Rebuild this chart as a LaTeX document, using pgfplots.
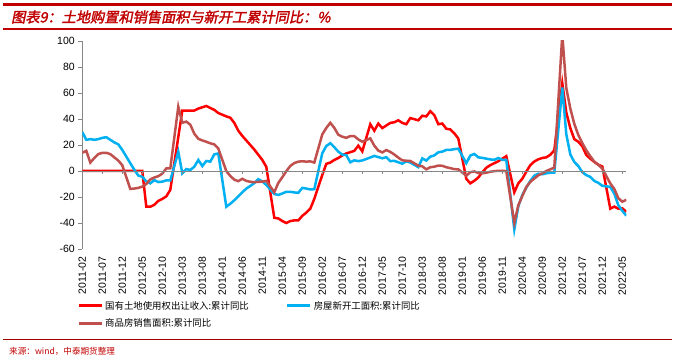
\documentclass[border=0pt]{standalone}
\usepackage{pgfplots}
\pgfplotsset{compat=1.18}
\usepackage{fontspec}
\setmainfont{Liberation Sans}
\newfontfamily\cjk{Noto Sans CJK SC}
\newfontfamily\titlefont{Noto Sans CJK SC}[FakeSlant=0.2, FakeBold=2]
\definecolor{cred}{RGB}{255,0,0}
\definecolor{cblue}{RGB}{0,176,240}
\definecolor{cbrown}{RGB}{192,80,77}
\definecolor{titlered}{RGB}{192,0,0}
\definecolor{axisgray}{RGB}{134,134,134}
\begin{document}
\begin{tikzpicture}
\fill[titlered] (3pt,352.5pt) rectangle (672pt,356.3pt);
\fill[titlered] (3pt,329.3pt) rectangle (672pt,331.3pt);
\fill[titlered!85!black] (3pt,19.3pt) rectangle (672pt,20.5pt);
\node[anchor=west, inner sep=0pt, text=titlered, font=\titlefont\fontsize{14.2}{16}\selectfont] at (11pt,342pt) {图表9：土地购置和销售面积与新开工累计同比：\%};
\node[anchor=west, inner sep=0pt, text=titlered, font=\cjk\fontsize{8.6}{10}\selectfont] at (9pt,7.5pt) {来源：wind，中泰期货整理};

\begin{axis}[
  at={(82.3pt,110pt)}, anchor=south west,
  scale only axis, width=544pt, height=208pt,
  xmin=0, xmax=136, ymin=-60, ymax=100,
  axis x line*=bottom, axis y line*=left,
  x axis line style={draw=none},
  y axis line style={draw=axisgray, line width=0.8pt, -},
  ytick={-60,-40,...,100},
  ytick style={draw=axisgray, line width=0.8pt},
  tick align=outside, major tick length=4pt,
  xtick={0,5,...,135},
  xticklabels={2011-02,2011-07,2011-12,2012-05,2012-10,2013-03,2013-08,2014-01,2014-06,2014-11,2015-04,2015-09,2016-02,2016-07,2016-12,2017-05,2017-10,2018-03,2018-08,2019-01,2019-06,2019-11,2020-04,2020-09,2021-02,2021-07,2021-12,2022-05},
  xtick style={draw=none},
  xticklabel style={rotate=90, anchor=east, font=\fontsize{10.5}{12}\selectfont},
  yticklabel style={font=\fontsize{10.5}{12}\selectfont},
  /pgf/number format/assume math mode=true,
  legend columns=2,
  legend style={at={(axis description cs:-0.0097,-0.24)}, anchor=north west, draw=none, fill=none,
    font=\cjk\fontsize{9.4}{11}\selectfont, inner sep=0pt, row sep=4.5pt,
    /tikz/every even column/.append style={column sep=35pt}},
  legend cell align=left,
  legend image code/.code={\draw[#1, line width=3pt] (0pt,0pt) -- (23pt,0pt);},
]
\addplot[cred, line width=2.5pt] coordinates {
(0,0)(5,0)(10,0)(15,0)
(16,-27.5)(17,-27.5)(18,-26)(19,-23)(20,-21.5)(21,-19.5)(22,-14.5)
(25,46.5)(26,46.5)(27,46.5)(28,46.5)(29,48)(30,49)(31,50)(32,48.5)(33,47)(34,44.6)
(36,42)(37,41)(38,37)(39,31)(40,27)(41,23.5)(42,20)(43,16.5)(44,12.5)(45,8.5)(46,3.2)
(48,-36)(49,-36.5)(50,-38.5)(51,-40)(52,-38.5)(53,-38)(54,-38)(55,-34.5)(56,-32)(57,-29)(58,-21.4)
(60,-3)(61,5.5)(62,6.5)(63,8.5)(64,10)(65,12)(66,13.5)(67,14.5)(68,15.5)(69,19.5)(70,15.1)
(72,36)(73,31)(74,36.5)(75,33)(76,35)(77,37)(78,37.5)(79,39)(80,37)(81,36)(82,40.7)
(84,39)(85,42.5)(86,42)(87,46)(88,43)(89,36)(90,36.5)(91,32.5)(92,32)(93,29)(94,25)
(96,-6)(97,-9.5)(98,-7.5)(99,-5)(100,-1)(101,2.5)(102,4.5)(103,6)(104,7.5)(105,9.5)(106,11.4)
(108,-16.4)(109,-9.5)(110,-6)(111,-0.5)(112,4.5)(113,7.3)(114,9)(115,10)(116,10.5)(117,12.5)(118,15.9)
(120,67.5)(121,45)(122,33)(123,24.5)(124,22.5)(125,19)(126,12.3)(127,9.5)(128,7)(129,4.8)(130,3.5)
(132,-29)(133,-27.4)(134,-29)(135,-28.7)(136,-31.4)
};
\addlegendentry{国有土地使用权出让收入:累计同比}
\addplot[cblue, line width=2.5pt] coordinates {
(0,30)(1,24)(2,24.5)(3,24)(4,24.5)(5,25.5)(6,26)(7,24)(8,22)(9,20.5)(10,16.2)
(12,6)(13,1)(14,-3.5)(15,-4.5)(16,-8)(17,-9.5)(18,-7)(19,-8.5)(20,-8.2)(21,-7.2)(22,-7.3)
(24,14.9)(25,-1.8)(26,1.5)(27,0.8)(28,3.3)(29,8.5)(30,3.8)(31,7.7)(32,7.2)(33,12.8)(34,13.5)
(36,-27.5)(37,-25.2)(38,-22.5)(39,-19.5)(40,-16.4)(41,-13.5)(42,-11.5)(43,-9.3)(44,-6.3)(45,-8)(46,-10.7)
(48,-17.7)(49,-18.4)(50,-17.3)(51,-16)(52,-16)(53,-16.5)(54,-16.8)(55,-13)(56,-13.5)(57,-14.2)(58,-14)
(60,13.7)(61,19.2)(62,21.4)(63,18.3)(64,14.9)(65,12.6)(66,12.2)(67,6.7)(68,8.2)(69,7.6)(70,8.1)
(72,10.4)(73,11.6)(74,10.7)(75,9.8)(76,10.6)(77,7.6)(78,7.8)(79,6.7)(80,5.6)(81,7.5)(82,6.5)
(84,3)(85,9.7)(86,8)(87,11)(88,12)(89,14.4)(90,14.9)(91,16.2)(92,16.2)(93,16.8)(94,17.2)
(96,6)(97,11.9)(98,13.1)(99,10.5)(100,10.1)(101,9.5)(102,8.9)(103,8.6)(104,10)(105,8.6)(106,8.5)
(108,-44.9)(109,-27.2)(110,-18.4)(111,-12.8)(112,-7.6)(113,-3.6)(114,-2.1)(115,-2.5)(116,-1.8)(117,-1.3)(118,-1.2)
(120,64.3)(121,28.2)(122,12.8)(123,6.9)(124,3.8)(125,-0.9)(126,-3.2)(127,-4.5)(128,-7.7)(129,-9.1)(130,-11.4)
(132,-12.2)(133,-17.5)(134,-26.3)(135,-30.6)(136,-34.4)
};
\addlegendentry{房屋新开工面积:累计同比}
\addplot[cbrown, line width=2.5pt] coordinates {
(0,14)(1,15.5)(2,6.5)(3,10)(4,13)(5,14)(6,14)(7,13)(8,10.5)(9,8)(10,4.4)
(12,-13.8)(13,-13.5)(14,-13)(15,-12)(16,-10)(17,-6.5)(18,-5)(19,-4)(20,-2)(21,2)(22,2)
(24,49.5)(25,37.1)(26,38)(27,35.6)(28,28.7)(29,24.8)(30,23.5)(31,22.5)(32,21.3)(33,20.5)(34,17.3)
(36,-0.1)(37,-3.8)(38,-6.7)(39,-7.8)(40,-6)(41,-7.6)(42,-8.3)(43,-8.6)(44,-8.3)(45,-8.2)(46,-7.6)
(48,-16.3)(49,-9.2)(50,-4.8)(51,-0.2)(52,3.9)(53,6.1)(54,7.2)(55,7.5)(56,7.2)(57,7.4)(58,6.5)
(60,28.2)(61,33.1)(62,37.1)(63,33.2)(64,27.9)(65,26.4)(66,25.5)(67,26.9)(68,26.8)(69,24.3)(70,22.5)
(72,25.1)(73,19.5)(74,15.7)(75,14.3)(76,16.1)(77,14.7)(78,12.7)(79,10.3)(80,8.2)(81,7.9)(82,7.7)
(84,4.1)(85,3.6)(86,1.3)(87,2.9)(88,3.3)(89,4.2)(90,4)(91,2.9)(92,2.2)(93,1.4)(94,1.3)
(96,-3.6)(97,-0.9)(98,-0.3)(99,-1.6)(100,-1.8)(101,-1.3)(102,-0.6)(103,-0.1)(104,0.1)(105,0.2)(106,-0.1)
(108,-39.9)(109,-26.3)(110,-19.3)(111,-12.3)(112,-8.4)(113,-5.8)(114,-3.3)(115,-1.8)(116,0)(117,1.3)(118,2.6)
(120,104.9)(121,63.8)(122,48.1)(123,36.3)(124,27.7)(125,21.5)(126,15.9)(127,11.3)(128,7.2)(129,4.8)(130,1.9)
(132,-9.6)(133,-13.8)(134,-20.9)(135,-23.6)(136,-22.2)
};
\addlegendentry{商品房销售面积:累计同比}
\end{axis}

\begin{axis}[
  at={(82.3pt,110pt)}, anchor=south west,
  scale only axis, width=544pt, height=208pt,
  xmin=0, xmax=136, ymin=-60, ymax=100,
  axis x line=middle, axis y line=none,
  x axis line style={-, draw=axisgray, line width=0.8pt},
  xtick={0,5,...,135}, xticklabels={}, ytick=\empty,
  xtick style={draw=axisgray, line width=0.8pt},
  xtick align=outside, major tick length=3pt,
]
\end{axis}
\pgfresetboundingbox
\path[use as bounding box] (0,0) rectangle (675pt,359pt);
\end{tikzpicture}
\end{document}
